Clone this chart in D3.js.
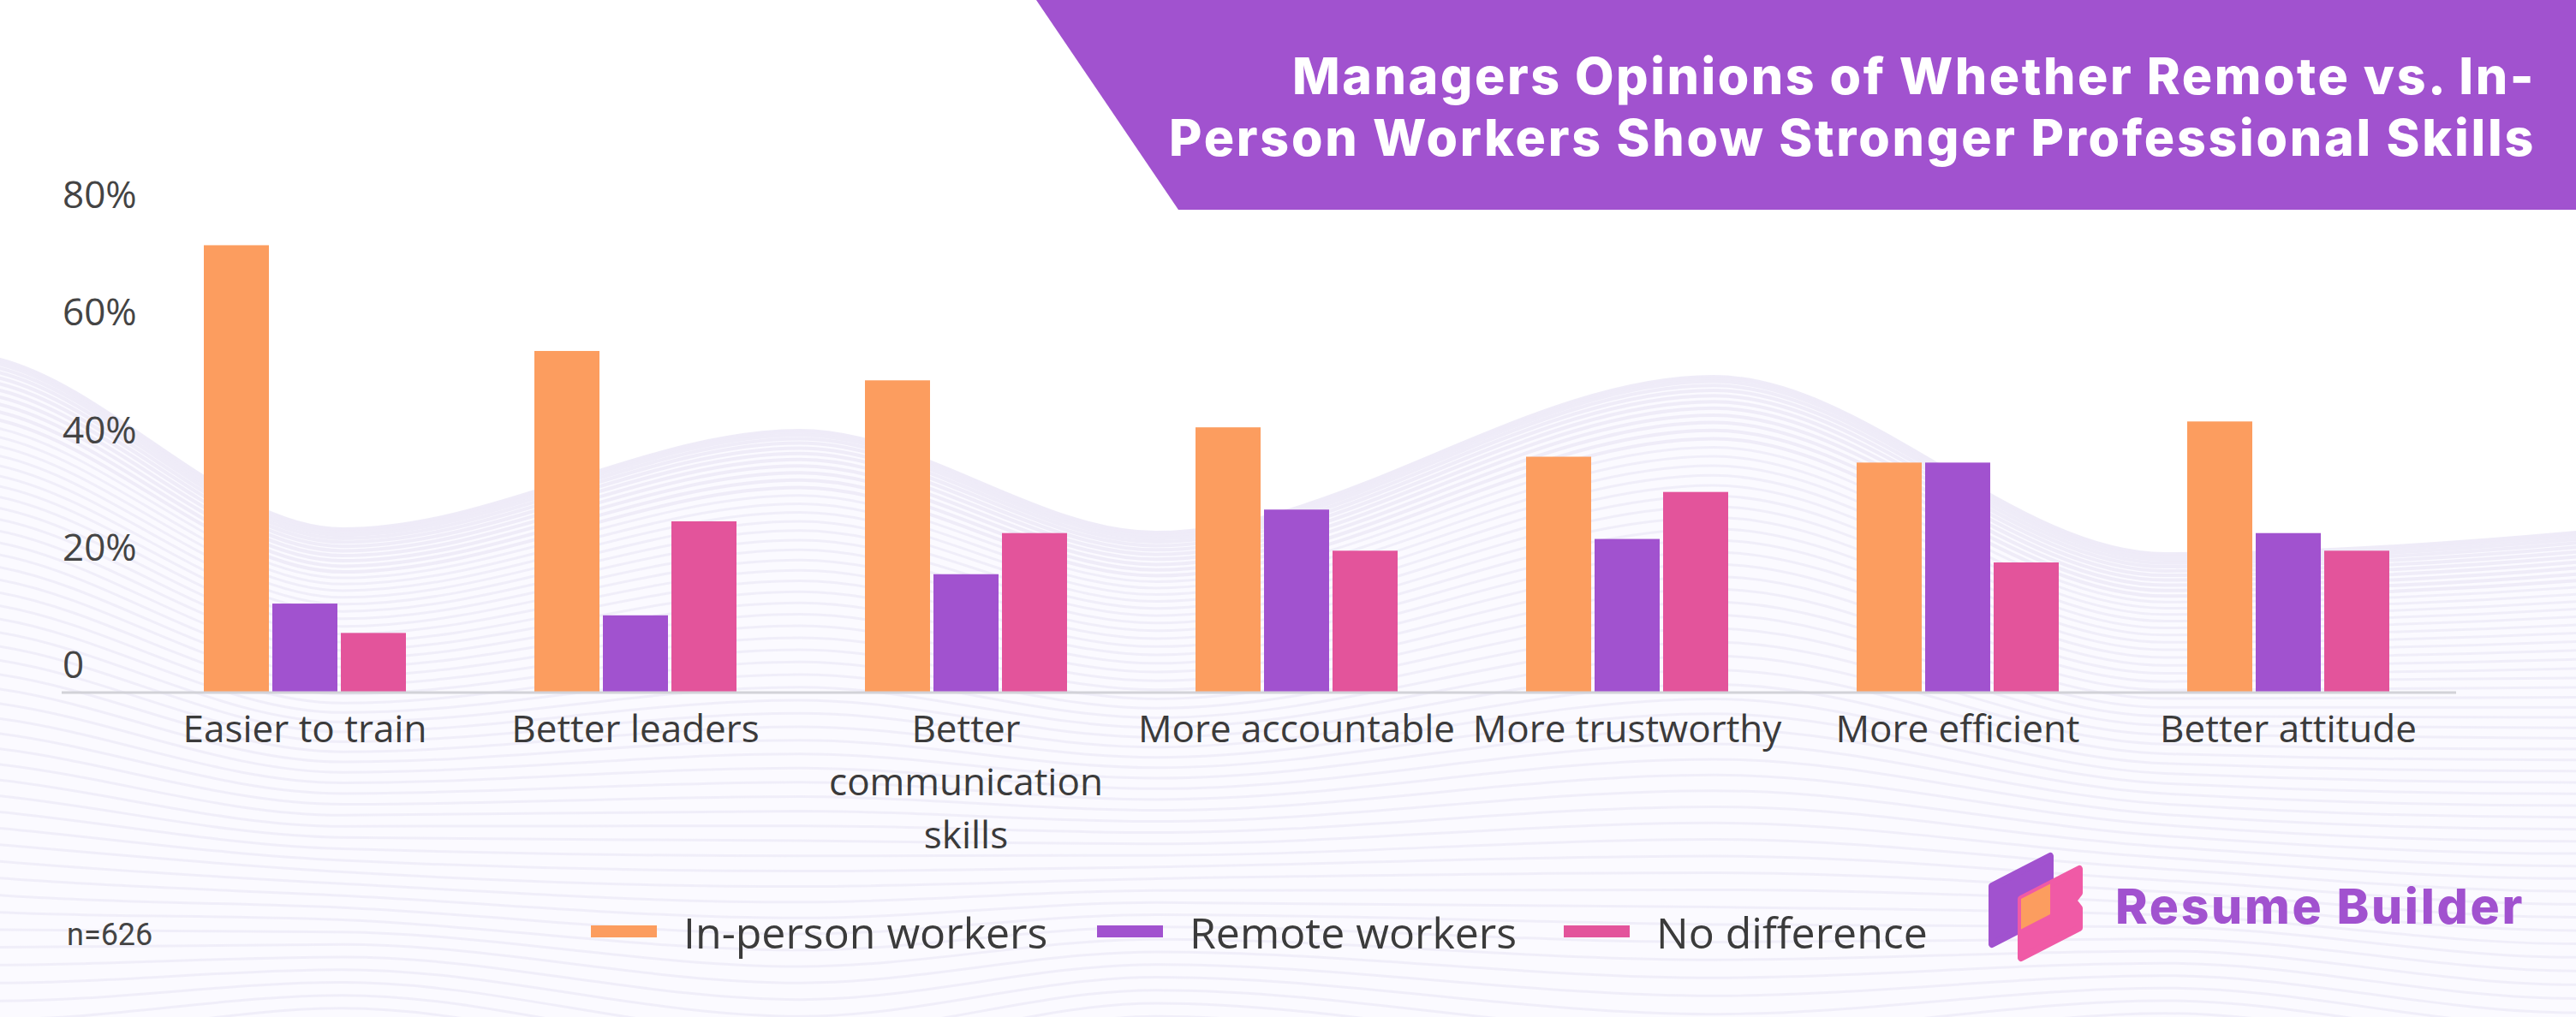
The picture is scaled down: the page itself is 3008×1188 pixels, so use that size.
<!DOCTYPE html>
<html>
<head>
<meta charset="utf-8">
<script src="https://cdn.jsdelivr.net/npm/d3@7"></script>
<style>
  body { margin: 0; background: #fff; }
  svg text { font-family: "Open Sans", sans-serif; }
</style>
</head>
<body>
<div id="chart"></div>
<script>
// data
const categories = ["Easier to train", "Better leaders", "Better communication skills",
    "More accountable", "More trustworthy", "More efficient", "Better attitude"];
const seriesNames = ["In-person workers", "Remote workers", "No difference"];
const inPerson = [76, 58, 53, 45, 40, 39, 46];
const remote   = [15, 13, 20, 31, 26, 39, 27];
const noDiff   = [10, 29, 27, 24, 34, 22, 24];
const yTicks = [0, 20, 40, 60, 80];
const yTickLabels = ["0", "20%", "40%", "60%", "80%"];
const titleLines = ["Managers Opinions of Whether Remote vs. In-",
    "Person Workers Show Stronger Professional Skills"];
const sampleNote = "n=626";

const colors = ["#FC9D5F", "#A152CF", "#E3549B"];
const W = 3008, H = 1188;

const svg = d3.select("#chart").append("svg")
    .attr("width", W)
    .attr("height", H);

// ---- background waves (decoration) ----
let topPts = [[-20,415],[0,420],[400,618],[934,503],[1350,622],[2001,440],[2528,647],[3008,622],[3030,620]];
let botPts = [[-20,1180],[0,1180],[450,1120],[950,1210],[1500,1130],[2050,1220],[2550,1140],[3008,1200],[3030,1200]];
let wave = d3.line().curve(d3.curveMonotoneX);
let bg = svg.append("g");
let nLines = 60;
for (let i = 0; i < nLines; i++) {
    let t = Math.pow(i / (nLines - 1), 1.5);
    let pts = topPts.map((p, k) => [p[0], p[1] + (botPts[k][1] + 120 - p[1]) * t]);
    bg.append("path")
        .attr("d", wave(pts))
        .attr("fill", "none")
        .attr("stroke", "#eeebf8")
        .attr("stroke-width", i < 12 ? 4 : 3)
        .attr("opacity", i < 12 ? 0.95 : 0.8);
}
// soft fill under the top wave
bg.insert("path", ":first-child")
    .attr("d", wave(topPts) + "L3030,1188L-20,1188Z")
    .attr("fill", "#fbfaff");

// ---- title banner ----
svg.append("path")
    .attr("d", "M1210,0L3008,0L3008,245L1376,245Z")
    .attr("fill", "#A152CF");

let titleTargets = [1452, 1596];
let titleText = svg.append("g");
titleLines.forEach(function(line, i) {
    let t = titleText.append("text")
        .text(line)
        .attr("x", 2961)
        .attr("y", 110 + i * 72)
        .attr("text-anchor", "end")
        .style("font-family", "Inter, 'Open Sans', sans-serif")
        .style("font-weight", 800)
        .style("font-size", "59px")
        .attr("fill", "#fff");
    let w = t.node().getComputedTextLength();
    t.style("letter-spacing", ((titleTargets[i] - w) / line.length) + "px");
});

// ---- scales ----
let x0 = d3.scaleBand()
    .domain(categories)
    .range([163, 2865])
    .paddingInner(0.3886)
    .paddingOuter(0.1943);
let x1 = d3.scaleBand()
    .domain(seriesNames)
    .range([0, x0.bandwidth()])
    .paddingInner(0.05);
let y = d3.scaleLinear()
    .domain([0, 80])
    .range([808, 259]);

// ---- y labels ----
let yAxis = svg.append("g");
yTicks.forEach(function(d, i) {
    yAxis.append("text")
        .text(yTickLabels[i])
        .attr("x", 73)
        .attr("y", y(d) - 16)
        .style("font-size", "44px")
        .attr("fill", "#444");
});

// ---- bars ----
let rows = categories.map((c, i) => ({cat: c, vals: [inPerson[i], remote[i], noDiff[i]]}));
let groups = svg.selectAll(".grp")
    .data(rows)
    .enter().append("g")
    .attr("class", "grp")
    .attr("transform", d => "translate(" + x0(d.cat) + ",0)");
groups.selectAll("rect")
    .data(d => d.vals.map((v, k) => ({name: seriesNames[k], v: v, k: k})))
    .enter().append("rect")
    .attr("x", d => x1(d.name))
    .attr("width", x1.bandwidth())
    .attr("y", d => y(d.v))
    .attr("height", d => y(0) - y(d.v))
    .attr("fill", d => colors[d.k]);

// baseline
svg.append("line")
    .attr("x1", 72).attr("x2", 2868)
    .attr("y1", y(0) + 1).attr("y2", y(0) + 1)
    .attr("stroke", "#d2d2d8")
    .attr("stroke-width", 3);

// ---- x labels (wrapped) ----
let xLab = svg.append("g");
categories.forEach(function(c) {
    let cx = x0(c) + x0.bandwidth() / 2;
    let t = xLab.append("text")
        .attr("x", cx)
        .attr("y", 867)
        .attr("text-anchor", "middle")
        .style("font-size", "44px")
        .attr("fill", "#3b3b3b");
    let words = c.split(" ");
    let line = [];
    let ts = t.append("tspan").attr("x", cx).attr("dy", 0);
    words.forEach(function(w) {
        line.push(w);
        ts.text(line.join(" "));
        if (ts.node().getComputedTextLength() > 380 && line.length > 1) {
            line.pop();
            ts.text(line.join(" "));
            line = [w];
            ts = t.append("tspan")
                .attr("x", cx)
                .attr("dy", 62)
                .text(w);
        }
    });
});

// ---- legend ----
let legendX = [690, 1281, 1826];
let legend = svg.append("g");
seriesNames.forEach(function(s, i) {
    legend.append("rect")
        .attr("x", legendX[i])
        .attr("y", 1081)
        .attr("width", 77)
        .attr("height", 14)
        .attr("fill", colors[i]);
    legend.append("text")
        .text(s)
        .attr("x", legendX[i] + 108)
        .attr("y", 1108)
        .style("font-size", "50px")
        .attr("fill", "#3b3b3b");
});

svg.append("text")
    .text(sampleNote)
    .attr("x", 78)
    .attr("y", 1104)
    .style("font-family", "Roboto, sans-serif")
    .style("font-size", "36px")
    .attr("fill", "#444");

// ---- logo ----
let logo = svg.append("g");
let purpleShape = [[2326,1035],[2394,1000],[2394,1068],[2326,1103]];
let pinkShape = [[2360,1050],[2428,1015],[2428,1043],[2421,1052],[2428,1061],[2428,1084],[2360,1119]];
let poly = d3.line().curve(d3.curveLinearClosed);
logo.append("defs").append("clipPath").attr("id", "purpleClip")
    .append("path").attr("d", poly(purpleShape));
logo.append("path").attr("d", poly(purpleShape))
    .attr("fill", "#A152CF").attr("stroke", "#A152CF")
    .attr("stroke-width", 8).attr("stroke-linejoin", "round");
logo.append("path").attr("d", poly(pinkShape))
    .attr("fill", "#F05AA6").attr("stroke", "#F05AA6")
    .attr("stroke-width", 8).attr("stroke-linejoin", "round");
logo.append("path").attr("d", poly(pinkShape))
    .attr("fill", "#FC9D5F")
    .attr("clip-path", "url(#purpleClip)");
let brand = logo.append("text")
    .text("Resume Builder")
    .attr("x", 2470)
    .attr("y", 1079)
    .style("font-family", "Inter, sans-serif")
    .style("font-weight", 800)
    .style("font-size", "57px")
    .attr("fill", "#A152CF");
let bw = brand.node().getComputedTextLength();
brand.style("letter-spacing", ((478 - bw) / 14) + "px");
</script>
</body>
</html>
